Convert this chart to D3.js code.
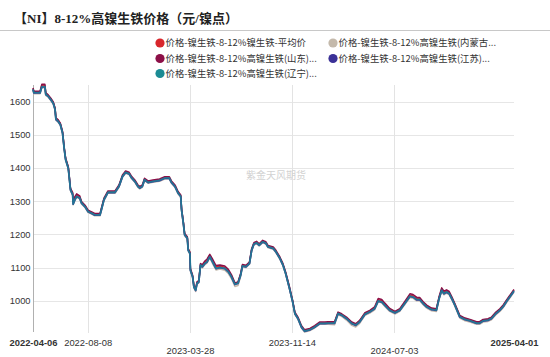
<!DOCTYPE html>
<html>
<head>
<meta charset="utf-8">
<script src="https://cdn.jsdelivr.net/npm/d3@7/dist/d3.min.js"></script>
<style>
  html, body { margin: 0; padding: 0; background: #fff; }
  svg { display: block; }
</style>
</head>
<body>
<svg id="chart" width="550" height="357"></svg>
<script>
// ---------- DATA ----------
const dates = [
"2022-04-06","2022-04-08","2022-04-22","2022-04-26","2022-05-03","2022-05-05","2022-05-10","2022-05-16","2022-05-22","2022-05-26",
"2022-05-28","2022-06-02","2022-06-07","2022-06-12","2022-06-16","2022-06-19","2022-06-25","2022-06-27","2022-06-30","2022-07-05",
"2022-07-06","2022-07-10","2022-07-14","2022-07-21","2022-07-25","2022-08-02","2022-08-09","2022-08-17","2022-08-24","2022-09-05",
"2022-09-08","2022-09-14","2022-09-23","2022-10-09","2022-10-18","2022-10-26","2022-11-02","2022-11-10","2022-11-15","2022-11-23",
"2022-11-30","2022-12-04","2022-12-10","2022-12-15","2022-12-23","2023-01-03","2023-01-18","2023-01-30","2023-02-09","2023-02-14",
"2023-02-22","2023-03-01","2023-03-07","2023-03-09","2023-03-13","2023-03-16","2023-03-22","2023-03-24","2023-03-28","2023-03-29",
"2023-04-03","2023-04-06","2023-04-10","2023-04-13","2023-04-17","2023-04-21","2023-04-25","2023-05-01","2023-05-06","2023-05-12",
"2023-05-18","2023-05-26","2023-06-04","2023-06-15","2023-06-23","2023-06-30","2023-07-08","2023-07-15","2023-07-21","2023-07-25",
"2023-08-02","2023-08-10","2023-08-15","2023-08-20","2023-08-26","2023-09-01","2023-09-09","2023-09-16","2023-09-21","2023-10-03",
"2023-10-09","2023-10-18","2023-10-25","2023-10-31","2023-11-08","2023-11-16","2023-11-21","2023-11-28","2023-12-06","2023-12-13",
"2023-12-25","2024-01-05","2024-01-16","2024-01-28","2024-02-04","2024-02-19","2024-02-27","2024-03-06","2024-03-17","2024-03-29",
"2024-04-07","2024-04-16","2024-04-28","2024-05-09","2024-05-20","2024-05-28","2024-06-05","2024-06-12","2024-06-23","2024-07-05",
"2024-07-16","2024-07-27","2024-08-08","2024-08-15","2024-08-23","2024-08-30","2024-09-07","2024-09-15","2024-09-26","2024-10-07",
"2024-10-13","2024-10-19","2024-10-24","2024-10-30","2024-11-05","2024-11-11","2024-11-18","2024-11-29","2024-12-11","2024-12-22",
"2025-01-06","2025-01-13","2025-01-21","2025-02-01","2025-02-09","2025-02-19","2025-02-28","2025-03-08","2025-03-16","2025-03-25",
"2025-04-01"];

const avgValues = [
1639,1629,1629,1648,1648,1625,1619,1609,1597,1579,
1549,1544,1533,1508,1458,1428,1402,1377,1338,1323,
1295,1309,1318,1313,1297,1286,1271,1266,1261,1261,
1276,1306,1328,1328,1346,1376,1388,1384,1373,1361,
1346,1341,1346,1366,1358,1361,1364,1371,1371,1358,
1346,1327,1317,1276,1236,1201,1191,1155,1145,1095,
1075,1044,1034,1055,1059,1110,1106,1116,1121,1136,
1121,1102,1104,1101,1091,1076,1052,1055,1080,1106,
1104,1114,1154,1172,1176,1169,1179,1175,1164,1159,
1149,1129,1109,1084,1043,998,963,948,922,910,
914,922,933,933,934,935,963,958,948,934,
929,939,962,969,979,1003,1000,990,975,966,
974,994,1017,1015,1007,1007,995,984,976,974,
1009,1035,1025,1030,1025,1009,989,954,946,942,
935,935,942,944,949,964,974,986,1002,1019,
1032];

const neimengguValues = [
1634,1624,1624,1642,1642,1619,1614,1604,1592,1574,
1544,1538,1528,1503,1453,1423,1397,1372,1332,1317,
1289,1302,1312,1307,1292,1281,1266,1261,1256,1256,
1271,1302,1324,1324,1342,1372,1384,1380,1369,1357,
1342,1337,1342,1362,1354,1357,1360,1367,1367,1354,
1342,1322,1312,1271,1231,1196,1186,1150,1140,1090,
1070,1038,1028,1050,1054,1105,1099,1109,1114,1129,
1113,1093,1096,1092,1082,1067,1043,1046,1073,1102,
1100,1110,1150,1168,1172,1165,1175,1171,1160,1155,
1145,1125,1105,1080,1039,994,959,944,918,906,
910,918,929,929,929,928,958,953,942,926,
921,932,956,963,973,997,994,983,968,960,
968,988,1010,1008,1000,1000,988,978,970,968,
1003,1028,1018,1023,1018,1003,983,948,940,936,
929,929,936,938,943,958,968,980,996,1013,
1026];

const shandongValues = [
1641,1631,1631,1652,1652,1626,1621,1611,1599,1581,
1551,1545,1535,1510,1460,1430,1404,1379,1339,1326,
1298,1314,1322,1316,1299,1288,1273,1268,1263,1263,
1278,1309,1331,1331,1349,1379,1391,1387,1376,1364,
1349,1344,1349,1369,1361,1364,1367,1374,1374,1361,
1349,1329,1319,1278,1238,1203,1193,1157,1147,1097,
1077,1046,1036,1057,1061,1112,1109,1120,1126,1140,
1126,1106,1108,1105,1095,1079,1054,1057,1082,1109,
1107,1117,1157,1175,1179,1172,1182,1178,1167,1162,
1152,1132,1112,1087,1046,1001,966,951,925,913,
917,925,936,936,937,937,966,961,951,936,
931,941,964,971,982,1007,1004,993,977,968,
976,997,1021,1019,1011,1010,997,987,978,976,
1012,1039,1029,1033,1028,1012,991,956,948,944,
937,937,944,946,951,966,976,988,1004,1021,
1034];

const jiangsuValues = [
1636,1626,1626,1644,1644,1621,1616,1606,1594,1576,
1546,1540,1530,1505,1455,1425,1399,1374,1334,1319,
1291,1304,1314,1309,1294,1283,1268,1263,1258,1258,
1273,1304,1326,1326,1344,1374,1386,1382,1371,1359,
1344,1339,1344,1364,1356,1359,1362,1369,1369,1356,
1344,1324,1314,1273,1233,1198,1188,1152,1142,1092,
1072,1041,1031,1052,1056,1107,1102,1112,1117,1132,
1117,1097,1100,1097,1087,1072,1049,1052,1077,1104,
1102,1112,1152,1170,1174,1167,1177,1173,1162,1157,
1147,1127,1107,1082,1041,996,961,946,920,908,
912,920,931,931,932,932,961,956,946,931,
926,936,959,966,976,999,996,986,971,963,
971,991,1013,1011,1003,1003,991,981,973,971,
1006,1031,1021,1026,1021,1006,986,951,943,939,
932,932,939,941,946,961,971,983,999,1016,
1029];

const liaoningValues = [
1637,1627,1627,1645,1645,1622,1617,1607,1595,1577,
1547,1541,1531,1506,1456,1426,1400,1375,1335,1320,
1292,1305,1315,1310,1295,1284,1269,1264,1259,1259,
1274,1305,1327,1327,1345,1375,1387,1383,1372,1360,
1345,1340,1345,1365,1357,1360,1363,1370,1370,1357,
1345,1325,1315,1274,1234,1199,1189,1153,1143,1093,
1073,1042,1032,1053,1057,1108,1103,1113,1118,1133,
1118,1098,1101,1098,1088,1073,1050,1053,1078,1105,
1103,1113,1153,1171,1175,1168,1178,1174,1163,1158,
1148,1128,1108,1083,1042,997,962,947,921,909,
913,921,932,932,933,933,962,957,947,932,
927,937,960,967,977,1000,997,987,972,964,
972,992,1014,1012,1004,1004,992,982,974,972,
1007,1032,1022,1027,1022,1007,987,952,944,940,
933,933,940,942,947,962,972,984,1000,1017,
1030];

const seriesNames = [
  "价格-镍生铁-8-12%镍生铁-平均价",
  "价格-镍生铁-8-12%高镍生铁(内蒙古...",
  "价格-镍生铁-8-12%高镍生铁(山东)...",
  "价格-镍生铁-8-12%高镍生铁(江苏)...",
  "价格-镍生铁-8-12%高镍生铁(辽宁)..."
];
const seriesColors = ["#d8262c", "#c4b9ab", "#8c0f47", "#3b3197", "#1b8b94"];
const seriesValues = [avgValues, neimengguValues, shandongValues, jiangsuValues, liaoningValues];

const yTicks = [1000, 1100, 1200, 1300, 1400, 1500, 1600];
const xTickLabels = ["2022-04-06", "2022-08-08", "2023-03-28", "2023-11-14", "2024-07-03", "2025-04-01"];
const titleText = "【NI】8-12%高镍生铁价格（元/镍点）";
const watermark = "紫金天风期货";

// ---------- CHART ----------
(function () {
const parse = d3.timeParse("%Y-%m-%d");
const svg = d3.select("#chart");

const pL = 33, pR = 514, pT = 85, pB = 334;
const x = d3.scaleTime().domain([parse("2022-04-06"), parse("2025-04-01")]).range([pL, pR]);
const y = d3.scaleLinear().domain([900, 1650]).range([pB, pT]);

// title
svg.append("text")
  .attr("x", 14).attr("y", 23)
  .attr("font-family", "'Liberation Serif', 'DejaVu Serif', 'Noto Sans CJK SC', serif")
  .attr("font-size", 13).attr("font-weight", "bold").attr("fill", "#222")
  .text(titleText);
svg.append("line").attr("x1", 0).attr("x2", 550).attr("y1", 30.5).attr("y2", 30.5)
  .attr("stroke", "#c8c8c8").attr("stroke-width", 1);

// legend
const legendPos = [[160, 43], [333, 43], [160, 58.5], [333, 58.5], [160, 73.5]];
seriesNames.forEach((name, si) => {
  const [lx, ly] = legendPos[si];
  const g = svg.append("g");
  g.append("circle").attr("cx", lx).attr("cy", ly).attr("r", 4.6).attr("fill", seriesColors[si]);
  g.append("text").attr("x", lx + 5.5).attr("y", ly + 3.4)
    .attr("font-family", "'Noto Sans CJK SC', sans-serif").attr("font-size", 9.4)
    .attr("fill", "#333").text(name);
});

// grid horizontal
svg.append("g").selectAll("line").data(yTicks).join("line")
  .attr("x1", pL).attr("x2", pR)
  .attr("y1", d => Math.round(y(d)) + 0.5).attr("y2", d => Math.round(y(d)) + 0.5)
  .attr("stroke", "#e6e6e6").attr("stroke-width", 1);

// grid vertical at inner tick dates
svg.append("g").selectAll("line").data(xTickLabels.slice(1, 5)).join("line")
  .attr("x1", d => Math.round(x(parse(d))) + 0.5).attr("x2", d => Math.round(x(parse(d))) + 0.5)
  .attr("y1", pT).attr("y2", pB - 1)
  .attr("stroke", "#e3e3e3").attr("stroke-width", 1);

// y axis
const yAxis = d3.axisLeft(y).tickValues(yTicks).tickSize(0).tickPadding(3).tickFormat(d3.format("d"));
const yg = svg.append("g").attr("transform", `translate(${pL + 0.5},0)`).call(yAxis);
yg.select(".domain").attr("stroke", "#b0b0b0").attr("d", `M0,${pT}V${pB - 2}`);
yg.selectAll("text").attr("font-family", "'Liberation Sans', Arial, sans-serif")
  .attr("font-size", 9.3).attr("fill", "#333");

// x axis (labels only, staggered)
const xAxis = d3.axisBottom(x).tickValues(xTickLabels.map(parse)).tickSize(0).tickFormat(d3.timeFormat("%Y-%m-%d"));
const xg = svg.append("g").attr("transform", `translate(0,${pB})`).call(xAxis);
xg.select(".domain").remove();
xg.selectAll(".tick text")
  .attr("font-family", "'Liberation Sans', Arial, sans-serif")
  .attr("font-size", 9.4).attr("fill", "#333")
  .attr("font-weight", (d, i) => (i === 0 || i === xTickLabels.length - 1) ? "bold" : "normal")
  .attr("y", (d, i) => (i === 2 || i === 4) ? 13.5 : 5);

// watermark
svg.append("text").attr("x", 276).attr("y", 179).attr("text-anchor", "middle")
  .attr("font-family", "'Noto Sans CJK SC', sans-serif").attr("font-size", 10)
  .attr("fill", "#d2d2d2").text(watermark);

// lines (Jiangsu below, Liaoning translucent on top -> dark teal blend)
const line = d3.line().x(d => x(d[0])).y(d => y(d[1])).curve(d3.curveLinear);
const widths = [1.5, 1.5, 1.5, 1.7, 1.8];
const opac = [1, 1, 1, 1, 0.75];
seriesValues.forEach((vals, si) => {
  const pts = dates.map((d, i) => [parse(d), vals[i]]);
  svg.append("path").datum(pts).attr("d", line)
    .attr("fill", "none").attr("stroke", seriesColors[si])
    .attr("stroke-width", widths[si]).attr("stroke-linejoin", "round")
    .attr("stroke-opacity", opac[si]);
});
})();
</script>
</body>
</html>
